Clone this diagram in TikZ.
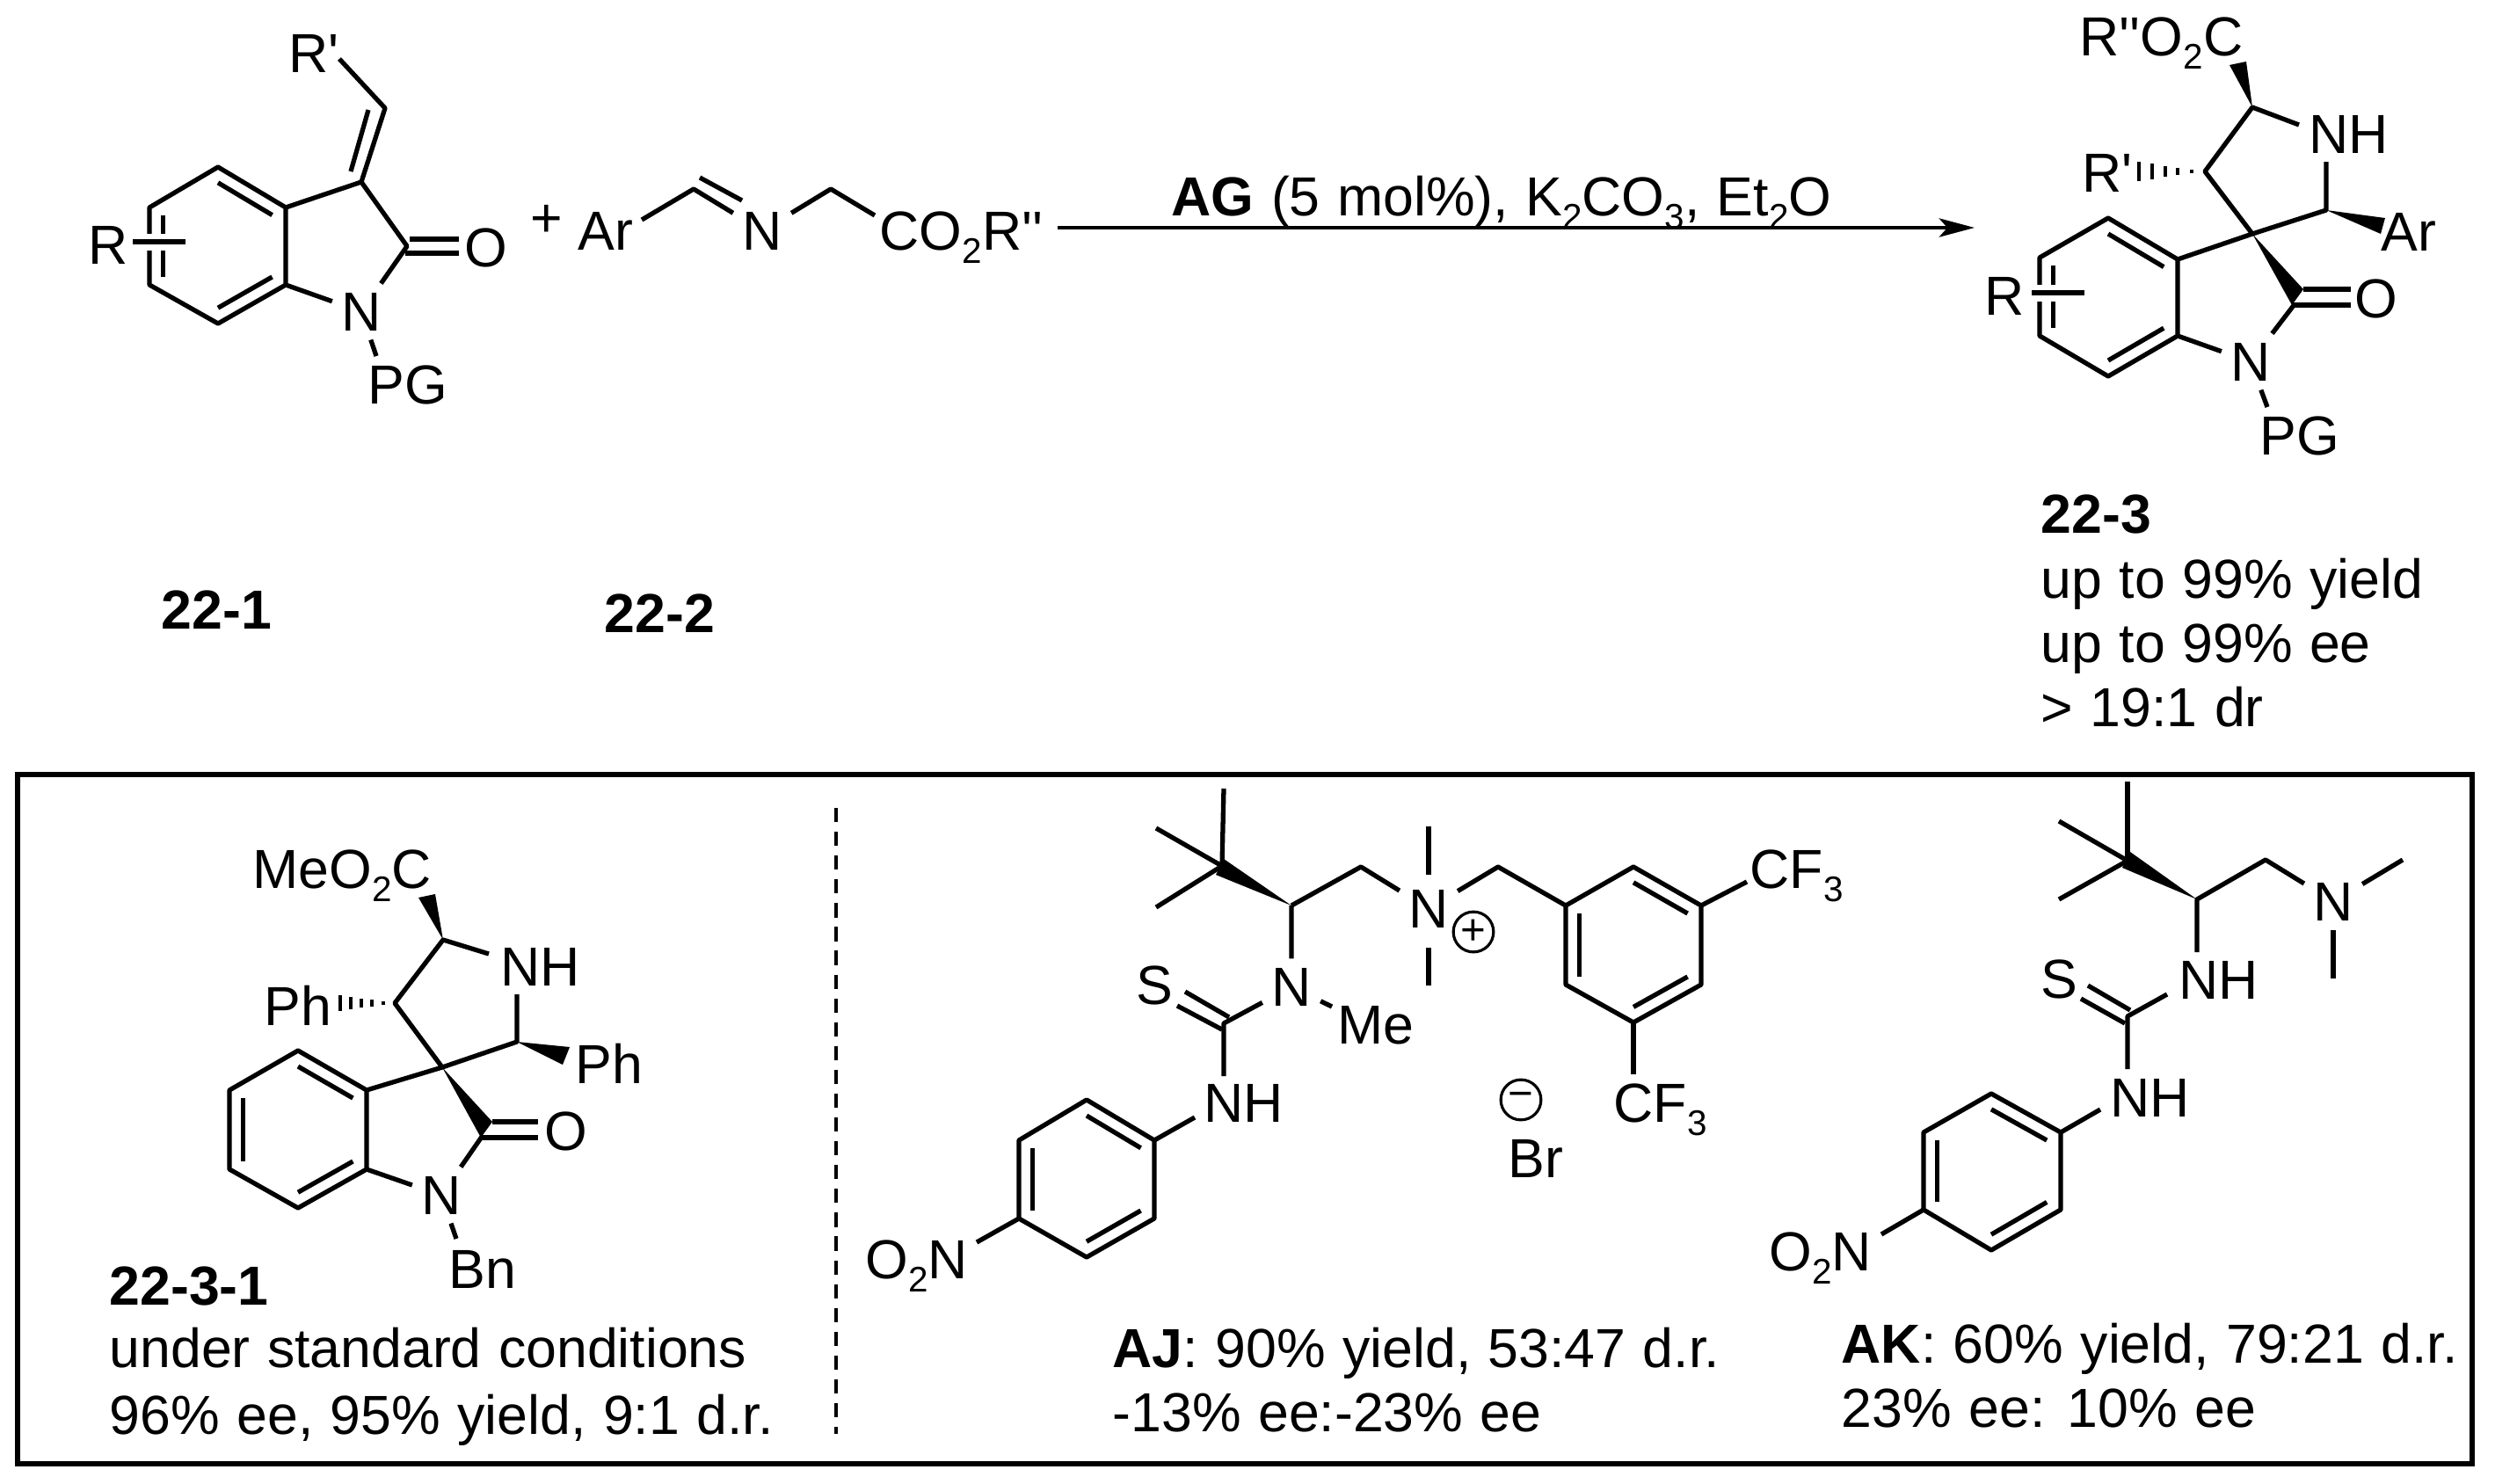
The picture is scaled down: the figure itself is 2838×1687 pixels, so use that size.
\documentclass[tikz,border=0pt]{standalone}
\usepackage{fontspec}
\setmainfont{Liberation Sans}[Ligatures=TeXOff, WordSpace=1.12]
\usetikzlibrary{calc,arrows.meta}

\tikzset{
  bond/.style={line width=1.5pt, line join=round},
  subst/.style={bond, preaction={draw=white, line width=5.4pt}},
  hash/.style={line width=1.1pt},
  wedge/.style={fill=black},
  lab/.style={inner sep=0pt, anchor=base west},
  atom/.style={inner sep=2.8pt, anchor=base},
  charge/.style={draw, circle, line width=0.9pt, inner sep=0pt, minimum size=13pt, font=\fontsize{14}{14}\selectfont},
}
\newcommand{\low}[1]{\raisebox{-4.3pt}{\fontsize{11.5}{11.5}\selectfont #1}}
\newcommand{\ringbond}[3]{\draw[bond] ($(#1)!.2!(#3)$) -- ($(#2)!.2!(#3)$);}
\newcommand{\hashwedge}[3]{\foreach \f in {.2,.4,.59,.78,.97}
  \draw[hash] ($(#1)!\f!(#2)+(0,-#3*\f)$) -- ($(#1)!\f!(#2)+(0,#3*\f)$);}

\begin{document}
\begin{tikzpicture}[x=0.01cm, y=-0.01cm, every node/.style={font=\fontsize{17.8}{21}\selectfont}]
  \useasboundingbox (0,0) rectangle (2838,1687);

  % 22-1
  \foreach \n/\x/\y in {a1/248/190, a2/325/236, a3/325/324, a4/248/368, a5/170/324, a6/170/236,
      a7/411/207, a8/438/123, a9/386/67, a10/463/280, a11/399/195, a12/419/125,
      a13/466/272, a14/522/272, a15/461/288, a16/522/288, a17/428/405,
      a18/151/275, a19/211/275, actr/248/279}
    \coordinate (\n) at (\x,\y);
  \node[atom] (Na) at (411,376) {N};
  \draw[bond] (a1) -- (a2) -- (a3) -- (a4) -- (a5) -- (a6) -- cycle;
  \ringbond{a1}{a2}{actr} \ringbond{a3}{a4}{actr} \ringbond{a5}{a6}{actr}
  \draw[bond] (a2) -- (a7) -- (a10) -- (Na) -- (a3);
  \draw[bond] (a7) -- (a8) -- (a9);
  \draw[bond] (a11) -- (a12);
  \draw[bond] (a13) -- (a14);
  \draw[bond] (a15) -- (a16);
  \draw[bond] (Na) -- (a17);
  \draw[subst] (a18) -- (a19);
  \node[lab] (Rpa) at (328,82) {R'};
  \node[lab] (Ra) at (100,300) {R};
  \node[atom, inner sep=0pt] (Oa) at (553,303) {O};
  \node[lab] (PGa) at (418,459) {PG};
  \node[lab] (numa) at (183,715) {\textbf{22-1}};

  % 22-2
  \foreach \n/\x/\y in {i1/730/250, i2/789/215, i3/945/215, i4/995/245, i5/796/202, i6/844/228}
    \coordinate (\n) at (\x,\y);
  \node[inner sep=0pt] (plus) at (622,251) {+};
  \node[lab] (Ari) at (657,284) {Ar};
  \node[atom] (Ni) at (867,284) {N};
  \node[lab] (ester) at (1000,284) {CO\low{2}R''};
  \draw[bond] (i1) -- (i2) -- (Ni) -- (i3) -- (i4);
  \draw[bond] (i5) -- (i6);
  \node[lab] (numb) at (687,719) {\textbf{22-2}};

  % arrow
  \coordinate (arrA) at (1203,259);
  \coordinate (arrB) at (2246,259);
  \draw[line width=1.3pt, -{Stealth[length=11.4pt,width=6pt,inset=2.6pt]}] (arrA) -- (arrB);
  \node[lab] (cond) at (1332,245) {\textbf{AG} (5 mol\%), K\low{2}CO\low{3}, Et\low{2}O};

  % 22-3
  \foreach \n/\x/\y in {c1/2398/248, c2/2477/295, c3/2477/382, c4/2398/428, c5/2320/382, c6/2320/293,
      c7/2562/266, c8/2508/195, c9/2562/122, c10/2646/239, c11/2610/346,
      c12/2615/142, c13/2646/184, c14/2536/74, c15/2555/70, c16/2713/248, c17/2708/266,
      c18/2620/329, c19/2607/347, c20/2674/329, c21/2674/347, c22/2579/463,
      c23/2311/333, c24/2371/333, c25/2431/195, cctr/2398/338}
    \coordinate (\n) at (\x,\y);
  \node[atom] (Nc) at (2560,433) {N};
  \draw[bond] (c1) -- (c2) -- (c3) -- (c4) -- (c5) -- (c6) -- cycle;
  \ringbond{c1}{c2}{cctr} \ringbond{c3}{c4}{cctr} \ringbond{c5}{c6}{cctr}
  \draw[bond] (c2) -- (c7) -- (c8) -- (c9) -- (c12);
  \draw[bond] (c7) -- (c10) -- (c13);
  \draw[bond] (c3) -- (Nc) -- (c11);
  \draw[bond] (Nc) -- (c22);
  \draw[bond] (c18) -- (c20);
  \draw[bond] (c19) -- (c21);
  \fill[wedge] (c9) -- (c14) -- (c15) -- cycle;
  \fill[wedge] (c10) -- (c16) -- (c17) -- cycle;
  \fill[wedge] (c7) -- (c18) -- (c19) -- cycle;
  \hashwedge{c8}{c25}{11}
  \draw[subst] (c23) -- (c24);
  \node[lab] (esterc) at (2365,63) {R''O\low{2}C};
  \node[lab] (NHc) at (2626,174) {NH};
  \node[lab] (Rpc) at (2368,218) {R'};
  \node[lab] (Arc) at (2708,285) {Ar};
  \node[lab] (Rc) at (2257,358) {R};
  \node[atom, inner sep=0pt] (Oc) at (2703,361) {O};
  \node[lab] (PGc) at (2570,517) {PG};
  \node[lab] (numc) at (2321,606) {\textbf{22-3}};
  \node[lab] (yieldc) at (2321,680) {up to 99\% yield};
  \node[lab] (eec) at (2321,753) {up to 99\% ee};
  \node[lab] (drc) at (2321,826) {> 19:1 dr};

  % frame and divider
  \coordinate (fA) at (20,881);
  \coordinate (fB) at (2812,1665);
  \coordinate (dA) at (951,919);
  \coordinate (dB) at (951,1631);
  \draw[line width=1.6pt] (fA) rectangle (fB);
  \draw[line width=1.3pt, dash pattern=on 4.6pt off 3.1pt] (dA) -- (dB);

  % 22-3-1
  \foreach \n/\x/\y in {d1/339/1195, d2/417/1240, d3/417/1330, d4/339/1374, d5/261/1330, d6/261/1240,
      d7/503/1214, d8/449/1141, d9/504/1069, d10/588/1185, d11/548/1293,
      d12/556/1085, d13/588/1131, d14/476/1021, d15/495/1017, d16/648/1191, d17/640/1211,
      d18/560/1276, d19/547/1294, d20/612/1276, d21/612/1294, d22/519/1409,
      d25/385/1141, dctr/339/1285}
    \coordinate (\n) at (\x,\y);
  \node[atom] (Nd) at (502,1381) {N};
  \draw[bond] (d1) -- (d2) -- (d3) -- (d4) -- (d5) -- (d6) -- cycle;
  \ringbond{d1}{d2}{dctr} \ringbond{d3}{d4}{dctr} \ringbond{d5}{d6}{dctr}
  \draw[bond] (d2) -- (d7) -- (d8) -- (d9) -- (d12);
  \draw[bond] (d7) -- (d10) -- (d13);
  \draw[bond] (d3) -- (Nd) -- (d11);
  \draw[bond] (Nd) -- (d22);
  \draw[bond] (d18) -- (d20);
  \draw[bond] (d19) -- (d21);
  \fill[wedge] (d9) -- (d14) -- (d15) -- cycle;
  \fill[wedge] (d10) -- (d16) -- (d17) -- cycle;
  \fill[wedge] (d7) -- (d18) -- (d19) -- cycle;
  \hashwedge{d8}{d25}{9}
  \node[lab] (esterd) at (287,1010) {MeO\low{2}C};
  \node[lab] (NHd) at (569,1121) {NH};
  \node[lab] (Phda) at (300,1166) {Ph};
  \node[lab] (Phdb) at (654,1232) {Ph};
  \node[atom, inner sep=0pt] (Od) at (644,1308) {O};
  \node[lab] (Bnd) at (510,1465) {Bn};
  \node[lab] (numd) at (124,1484) {\textbf{22-3-1}};
  \node[lab] (stdd) at (124,1555) {under standard conditions};
  \node[lab] (eed) at (124,1631) {96\% ee, 95\% yield, 9:1 d.r.};

  % AJ
  \foreach \n/\x/\y in {e1/1858/986, e2/1935/1030, e3/1935/1120, e4/1858/1163, e5/1781/1120, e6/1781/1030,
      e7/1392/897, e8/1315/942, e9/1315/1032, e10/1390/985, e11/1469/1030, e12/1548/986,
      e13/1704/986, e14/1625/940, e15/1625/995, e16/1625/1078, e17/1625/1121,
      e18/1987/1003, e19/1858/1222, e20/1392/977, e21/1383/995,
      e22/1515/1145, e23/1392/1164, e24/1348/1128, e25/1398/1157, e26/1339/1144, e27/1390/1171,
      e28/1392/1224, e29/1359/1271, e30/1111/1413,
      f1/1236/1251, f2/1313/1297, f3/1313/1386, f4/1236/1430, f5/1159/1386, f6/1159/1297,
      ectr/1858/1075, fctr/1236/1341}
    \coordinate (\n) at (\x,\y);
  \node[atom] (Ne) at (1625,1055) {N};
  \node[atom] (Nf) at (1469,1144) {N};
  \draw[bond] (e1) -- (e2) -- (e3) -- (e4) -- (e5) -- (e6) -- cycle;
  \ringbond{e1}{e2}{ectr} \ringbond{e3}{e4}{ectr} \ringbond{e5}{e6}{ectr}
  \draw[bond] (f1) -- (f2) -- (f3) -- (f4) -- (f5) -- (f6) -- cycle;
  \ringbond{f1}{f2}{fctr} \ringbond{f3}{f4}{fctr} \ringbond{f5}{f6}{fctr}
  \draw[bond] (e7) -- (e10);
  \draw[bond] (e8) -- (e10) -- (e9);
  \fill[wedge] (e11) -- (e20) -- (e21) -- cycle;
  \draw[bond] (e11) -- (e12) -- (Ne) -- (e13) -- (e6);
  \draw[bond] (e14) -- (e15);
  \draw[bond] (e16) -- (e17);
  \draw[bond] (e2) -- (e18);
  \draw[bond] (e4) -- (e19);
  \draw[bond] (e11) -- (Nf) -- (e23) -- (e28);
  \draw[bond] (Nf) -- (e22);
  \draw[bond] (e24) -- (e25);
  \draw[bond] (e26) -- (e27);
  \draw[bond] (e29) -- (f2);
  \draw[bond] (f5) -- (e30);
  \node[charge] (plusj) at (1676,1060) {+};
  \node[charge] (minusj) at (1730,1251) {−};
  \node[lab] (Brj) at (1715,1339) {Br};
  \node[lab] (CFja) at (1990,1010) {CF\low{3}};
  \node[lab] (CFjb) at (1835,1276) {CF\low{3}};
  \node[lab] (Mej) at (1521,1187) {Me};
  \node[atom, inner sep=0pt] (Sj) at (1313,1142) {S};
  \node[lab] (NHj) at (1369,1276) {NH};
  \node[lab] (nitroj) at (984,1454) {O\low{2}N};
  \node[lab] (yieldj) at (1265,1555) {\textbf{AJ}: 90\% yield, 53:47 d.r.};
  \node[lab] (eej) at (1265,1628) {-13\% ee:-23\% ee};

  % AK
  \foreach \n/\x/\y in {g1/2265/1244, g2/2344/1288, g3/2344/1376, g4/2265/1422, g5/2188/1376, g6/2188/1288,
      g7/2420/889, g8/2342/934, g9/2342/1023, g10/2420/979, g11/2499/1023, g12/2577/978,
      g13/2733/978, g14/2654/1113, g15/2423/969, g16/2414/987, g17/2499/1083,
      g18/2465/1131, g19/2420/1156, g20/2420/1216, g21/2375/1121, g22/2423/1149,
      g23/2367/1136, g24/2417/1164, g25/2389/1262, g26/2140/1404, gctr/2265/1333}
    \coordinate (\n) at (\x,\y);
  \node[atom] (Ng) at (2654,1047) {N};
  \draw[bond] (g1) -- (g2) -- (g3) -- (g4) -- (g5) -- (g6) -- cycle;
  \ringbond{g1}{g2}{gctr} \ringbond{g3}{g4}{gctr} \ringbond{g5}{g6}{gctr}
  \draw[bond] (g7) -- (g10);
  \draw[bond] (g8) -- (g10) -- (g9);
  \fill[wedge] (g11) -- (g15) -- (g16) -- cycle;
  \draw[bond] (g17) -- (g11) -- (g12) -- (Ng) -- (g13);
  \draw[bond] (Ng) -- (g14);
  \draw[bond] (g18) -- (g19) -- (g20);
  \draw[bond] (g21) -- (g22);
  \draw[bond] (g23) -- (g24);
  \draw[bond] (g25) -- (g2);
  \draw[bond] (g5) -- (g26);
  \node[lab] (NHka) at (2478,1136) {NH};
  \node[atom, inner sep=0pt] (Sk) at (2342,1135) {S};
  \node[lab] (NHkb) at (2400,1270) {NH};
  \node[lab] (nitrok) at (2012,1445) {O\low{2}N};
  \node[lab] (yieldk) at (2094,1550) {\textbf{AK}: 60\% yield, 79:21 d.r.};
  \node[lab] (eek) at (2094,1623) {23\% ee: 10\% ee};
\end{tikzpicture}
\end{document}
